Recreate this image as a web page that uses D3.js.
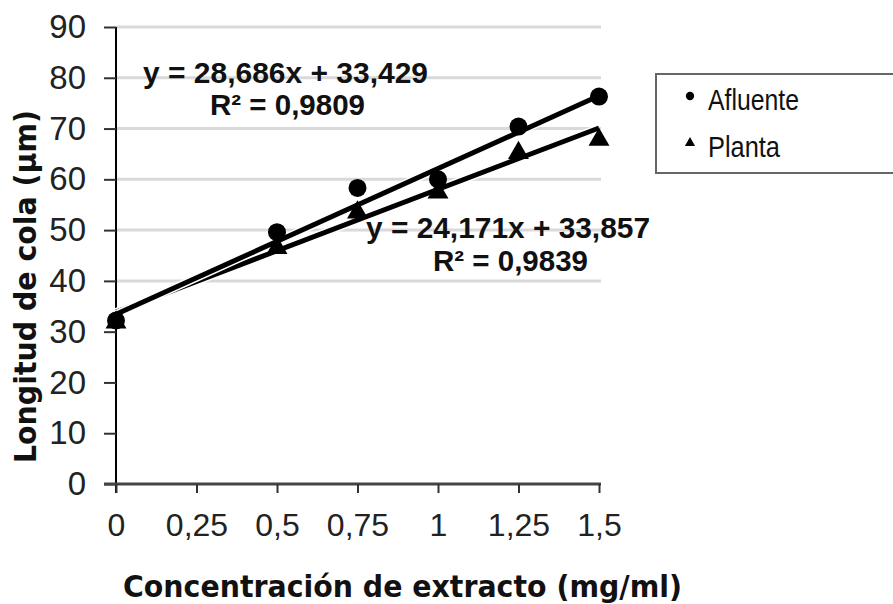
<!DOCTYPE html>
<html>
<head>
<meta charset="utf-8">
<script src="https://cdn.jsdelivr.net/npm/d3@7"></script>
<style>
  body { margin: 0; background: #fff; }
  svg { display: block; }
</style>
</head>
<body>
<div id="chart"></div>
<script>
// concentration (mg/ml)
var concentrations = [0, 0.5, 0.75, 1, 1.25, 1.5];
// tail length (µm)
var afluente = [32.2, 49.6, 58.3, 60.0, 70.4, 76.3];
var planta   = [31.8, 46.5, 53.5, 57.4, 65.2, 67.8];

var xTicks = [0, 0.25, 0.5, 0.75, 1, 1.25, 1.5];
var yTicks = [0, 10, 20, 30, 40, 50, 60, 70, 80, 90];
var gridValues = [40, 50, 60, 70, 80, 90];

// trendlines as printed on the chart
var fitAfluente = { slope: 28.686, intercept: 33.429, eq: 'y = 28,686x + 33,429', r2: 'R² = 0,9809' };
var fitPlanta   = { slope: 24.171, intercept: 33.857, eq: 'y = 24,171x + 33,857', r2: 'R² = 0,9839' };

var legendLabels = ['Afluente', 'Planta'];

var width = 893, height = 604;

var svg = d3.select('#chart').append('svg')
    .attr('width', width)
    .attr('height', height);

svg.append('rect')
    .attr('width', width)
    .attr('height', height)
    .attr('fill', '#fff');

var x = d3.scaleLinear().domain([0, 1.5]).range([116, 599]);
var y = d3.scaleLinear().domain([0, 90]).range([484, 27]);

var fmt = function (d) { return String(d).replace('.', ','); };

// grid lines
svg.append('g').selectAll('line')
    .data(gridValues)
    .enter().append('line')
    .attr('x1', x(0)).attr('x2', x(1.5) + 2)
    .attr('y1', y).attr('y2', y)
    .attr('stroke', '#d9d9d9')
    .attr('stroke-width', 3);

// y axis
var yAxis = svg.append('g')
    .attr('transform', 'translate(' + x(0) + ',0)')
    .call(d3.axisLeft(y).tickValues(yTicks).tickSize(12).tickPadding(18).tickFormat(fmt));
yAxis.select('.domain').attr('d', 'M0,' + y(90) + 'V' + (y(0) + 9)).attr('stroke', '#000').attr('stroke-width', 2);
yAxis.selectAll('.tick line').attr('stroke', '#333').attr('stroke-width', 2);
yAxis.selectAll('.tick text')
    .attr('font-family', '"Liberation Sans", Arial, sans-serif')
    .attr('font-size', 33)
    .attr('fill', '#222');

// x axis
var xAxis = svg.append('g')
    .attr('transform', 'translate(0,' + y(0) + ')')
    .call(d3.axisBottom(x).tickValues(xTicks).tickSize(9).tickPadding(20).tickFormat(fmt));
xAxis.select('.domain').attr('d', 'M' + (x(0) - 12) + ',0H' + (x(1.5) + 2)).attr('stroke', '#444').attr('stroke-width', 3);
xAxis.selectAll('.tick line').attr('stroke', '#333').attr('stroke-width', 2);
xAxis.selectAll('.tick text')
    .attr('font-family', '"Liberation Sans", Arial, sans-serif')
    .attr('font-size', 32)
    .attr('fill', '#222');

// trendlines (white casing keeps the two lines apart, as in the original)
function trend(fit) {
    return [0, 1.5].map(function (c) { return [x(c), y(fit.intercept + fit.slope * c)]; });
}
var line = d3.line();
[fitPlanta, fitAfluente].forEach(function (fit) {
    svg.append('path')
        .attr('d', line(trend(fit)))
        .attr('fill', 'none')
        .attr('stroke', '#fff')
        .attr('stroke-width', 8);
    svg.append('path')
        .attr('d', line(trend(fit)))
        .attr('fill', 'none')
        .attr('stroke', '#000')
        .attr('stroke-width', 5);
});

// points
var ptsA = concentrations.map(function (c, i) { return { c: c, v: afluente[i] }; });
var ptsP = concentrations.map(function (c, i) { return { c: c, v: planta[i] }; });

svg.append('g').selectAll('circle')
    .data(ptsA)
    .enter().append('circle')
    .attr('cx', function (d) { return x(d.c); })
    .attr('cy', function (d) { return y(d.v); })
    .attr('r', 9)
    .attr('fill', '#000');

var tri = d3.symbol().type(d3.symbolTriangle).size(190);
svg.append('g').selectAll('path')
    .data(ptsP)
    .enter().append('path')
    .attr('d', tri)
    .attr('transform', function (d) { return 'translate(' + x(d.c) + ',' + y(d.v) + ')'; })
    .attr('fill', '#000');

// equation labels
var eqFont = '"Liberation Sans Narrow", "Liberation Sans", Arial, sans-serif';
function label(txt, x0, base, len) {
    svg.append('text')
        .attr('x', x0).attr('y', base)
        .attr('font-family', eqFont)
        .attr('font-weight', 'bold')
        .attr('font-size', 29)
        .attr('textLength', len)
        .attr('lengthAdjust', 'spacingAndGlyphs')
        .attr('fill', '#111')
        .text(txt);
}
label(fitAfluente.eq, 143, 83, 285);
label(fitAfluente.r2, 210, 115, 155);
label(fitPlanta.eq, 366, 238, 284);
label(fitPlanta.r2, 433, 271, 155);

// axis titles
var titleFont = '"DejaVu Sans", Verdana, sans-serif';
svg.append('text')
    .attr('x', 123).attr('y', 597)
    .attr('font-family', titleFont)
    .attr('font-weight', 'bold')
    .attr('font-size', 30)
    .attr('textLength', 559)
    .attr('lengthAdjust', 'spacingAndGlyphs')
    .attr('fill', '#111')
    .text('Concentración de extracto (mg/ml)');

svg.append('text')
    .attr('transform', 'translate(36,463) rotate(-90)')
    .attr('font-family', titleFont)
    .attr('font-weight', 'bold')
    .attr('font-size', 30)
    .attr('textLength', 353)
    .attr('lengthAdjust', 'spacingAndGlyphs')
    .attr('fill', '#111')
    .text('Longitud de cola (µm)');

// legend
var legend = svg.append('g');
legend.append('rect')
    .attr('x', 656).attr('y', 74)
    .attr('width', 260).attr('height', 99)
    .attr('fill', '#fff')
    .attr('stroke', '#666')
    .attr('stroke-width', 2);

var items = legend.selectAll('g.item')
    .data(legendLabels)
    .enter().append('g')
    .attr('class', 'item')
    .attr('transform', function (d, i) { return 'translate(690,' + (96 + i * 47) + ')'; });

items.append('path')
    .attr('d', function (d, i) {
        return d3.symbol().type(i === 0 ? d3.symbolCircle : d3.symbolTriangle).size(i === 0 ? 55 : 45)();
    })
    .attr('fill', '#000');

items.append('text')
    .attr('x', 18).attr('y', 14)
    .attr('font-family', eqFont)
    .attr('font-size', 30)
    .attr('textLength', function (d, i) { return i === 0 ? 91 : 72; })
    .attr('lengthAdjust', 'spacingAndGlyphs')
    .attr('fill', '#111')
    .text(function (d) { return d; });
</script>
</body>
</html>
